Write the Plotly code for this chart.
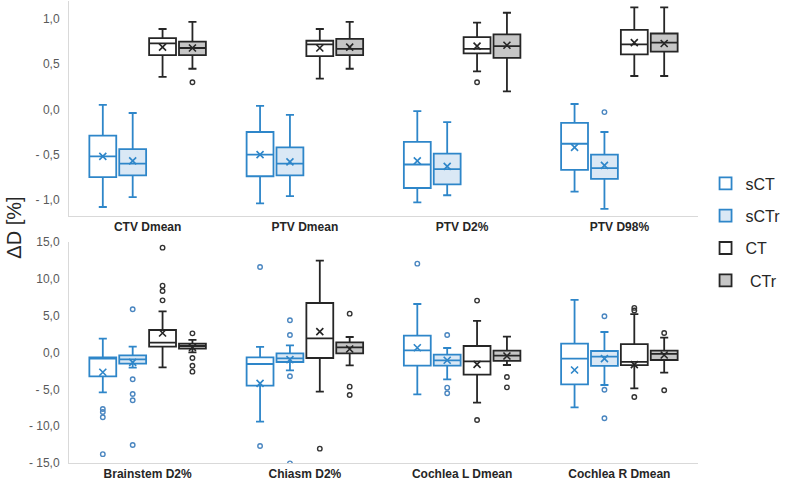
import plotly.graph_objects as go

# ---------------- data ----------------
top_categories = ["CTV Dmean", "PTV Dmean", "PTV D2%", "PTV D98%"]
bottom_categories = ["Brainstem D2%", "Chiasm D2%", "Cochlea L Dmean", "Cochlea R Dmean"]
series_names = ["sCT", "sCTr", "CT", "\u00a0CTr"]

top_ticks = [-1.0, -0.5, 0.0, 0.5, 1.0]
top_ticktext = ["- 1,0", "- 0,5", "0,0", "0,5", "1,0"]
bottom_ticks = [-15, -10, -5, 0, 5, 10, 15]
bottom_ticktext = ["- 15,0", "- 10,0", "- 5,0", "0,0", "5,0", "10,0", "15,0"]

# top panel
top_sct_low = [-1.08, -1.04, -1.03, -0.91]
top_sct_q1 = [-0.75, -0.74, -0.87, -0.67]
top_sct_med = [-0.52, -0.50, -0.61, -0.38]
top_sct_q3 = [-0.29, -0.25, -0.36, -0.15]
top_sct_high = [0.05, 0.04, -0.02, 0.06]
top_sct_mean = [-0.52, -0.50, -0.57, -0.42]
top_sct_out = [[], [], [], []]

top_sctr_low = [-0.97, -0.96, -0.95, -1.10]
top_sctr_q1 = [-0.73, -0.73, -0.83, -0.77]
top_sctr_med = [-0.60, -0.60, -0.66, -0.65]
top_sctr_q3 = [-0.44, -0.42, -0.49, -0.50]
top_sctr_high = [-0.04, -0.06, -0.14, -0.25]
top_sctr_mean = [-0.57, -0.58, -0.63, -0.62]
top_sctr_out = [[], [], [], [-0.03]]

top_ct_low = [0.36, 0.34, 0.42, 0.37]
top_ct_q1 = [0.60, 0.59, 0.62, 0.61]
top_ct_med = [0.73, 0.72, 0.67, 0.72]
top_ct_q3 = [0.79, 0.76, 0.80, 0.88]
top_ct_high = [0.89, 0.89, 0.96, 1.13]
top_ct_mean = [0.69, 0.68, 0.70, 0.74]
top_ct_out = [[], [], [0.30], []]

top_ctr_low = [0.45, 0.45, 0.20, 0.37]
top_ctr_q1 = [0.60, 0.60, 0.57, 0.64]
top_ctr_med = [0.68, 0.67, 0.70, 0.74]
top_ctr_q3 = [0.75, 0.78, 0.83, 0.84]
top_ctr_high = [0.97, 0.97, 1.07, 1.13]
top_ctr_mean = [0.68, 0.69, 0.71, 0.73]
top_ctr_out = [[0.30], [], [], []]

# bottom panel
bot_sct_low = [-5.41, -9.39, -5.68, -7.44]
bot_sct_q1 = [-3.24, -4.50, -1.79, -4.32]
bot_sct_med = [-0.84, -1.56, 0.29, -0.84]
bot_sct_q3 = [-0.66, -0.66, 2.28, 1.20]
bot_sct_high = [1.87, 0.75, 6.58, 7.13]
bot_sct_mean = [-2.69, -4.19, 0.65, -2.38]
bot_sct_out = [[-7.67, -8.08, -8.8, -13.8], [11.6, -12.7], [12.06], []]

bot_sctr_low = [-2.06, -2.42, -3.64, -4.41]
bot_sctr_q1 = [-1.52, -1.29, -1.79, -1.83]
bot_sctr_med = [-0.93, -0.79, -1.06, -0.57]
bot_sctr_q3 = [-0.39, -0.12, -0.29, 0.20]
bot_sctr_high = [0.79, 0.97, 0.61, 2.78]
bot_sctr_mean = [-1.34, -0.97, -1.06, -0.84]
bot_sctr_out = [[5.86, -3.64, -5.63, -6.49, -12.56], [4.37, 2.38, -3.23, -15.05],
                [2.38, -4.77, -5.54], [4.91, -5.05, -8.93]]

bot_ct_low = [-2.01, -5.32, -6.81, -4.86]
bot_ct_q1 = [0.79, -0.75, -3.01, -1.72]
bot_ct_med = [1.33, 1.92, -1.20, -1.27]
bot_ct_q3 = [3.05, 6.72, 0.88, 1.13]
bot_ct_high = [5.59, 12.46, 4.28, 5.2]
bot_ct_mean = [2.65, 2.83, -1.61, -1.65]
bot_ct_out = [[14.23, 9.07, 8.35, 7.08], [-13.05], [7.04, -9.16], [6.05, 5.7, -6.04]]

bot_ctr_low = [0.02, -1.74, -1.70, -2.74]
bot_ctr_q1 = [0.52, -0.11, -1.15, -1.02]
bot_ctr_med = [0.88, 0.70, -0.43, -0.20]
bot_ctr_q3 = [1.20, 1.38, 0.25, 0.25]
bot_ctr_high = [1.70, 2.10, 2.15, 2.01]
bot_ctr_mean = [0.70, 0.48, -0.47, -0.34]
bot_ctr_out = [[2.6, -0.75, -1.79, -2.6], [5.27, -4.64, -5.77], [-3.33, -4.73], [2.65, -5.13]]

# ---------------- style ----------------
BLUE = "#2e86c9"
DARK = "#262626"
line_colors = [BLUE, BLUE, DARK, DARK]
fill_colors = ["#ffffff", "#dae8f5", "#ffffff", "#c6c6c6"]
out_colors = ["#4a86c0", "#4a86c0", "#333333", "#333333"]
groups = ["a", "b", "c", "d"]
FONT = "Liberation Sans, Arial, sans-serif"

top_stats = [
    (top_sct_low, top_sct_q1, top_sct_med, top_sct_q3, top_sct_high, top_sct_mean, top_sct_out),
    (top_sctr_low, top_sctr_q1, top_sctr_med, top_sctr_q3, top_sctr_high, top_sctr_mean, top_sctr_out),
    (top_ct_low, top_ct_q1, top_ct_med, top_ct_q3, top_ct_high, top_ct_mean, top_ct_out),
    (top_ctr_low, top_ctr_q1, top_ctr_med, top_ctr_q3, top_ctr_high, top_ctr_mean, top_ctr_out),
]
bot_stats = [
    (bot_sct_low, bot_sct_q1, bot_sct_med, bot_sct_q3, bot_sct_high, bot_sct_mean, bot_sct_out),
    (bot_sctr_low, bot_sctr_q1, bot_sctr_med, bot_sctr_q3, bot_sctr_high, bot_sctr_mean, bot_sctr_out),
    (bot_ct_low, bot_ct_q1, bot_ct_med, bot_ct_q3, bot_ct_high, bot_ct_mean, bot_ct_out),
    (bot_ctr_low, bot_ctr_q1, bot_ctr_med, bot_ctr_q3, bot_ctr_high, bot_ctr_mean, bot_ctr_out),
]

fig = go.Figure()


def add_panel(cats, stats, xa, ya, showlegend):
    for i, (low, q1, med, q3, high, mean, out) in enumerate(stats):
        fig.add_trace(go.Box(
            x=cats, q1=q1, median=med, q3=q3, lowerfence=low, upperfence=high,
            name=series_names[i], legendgroup=series_names[i], showlegend=showlegend,
            offsetgroup=groups[i], boxpoints=False,
            line=dict(color=line_colors[i], width=1.8), fillcolor=fill_colors[i],
            whiskerwidth=0.3, xaxis=xa, yaxis=ya,
        ))
    for i, (low, q1, med, q3, high, mean, out) in enumerate(stats):
        ox = [c for c, pts in zip(cats, out) for _ in pts]
        oy = [p for pts in out for p in pts]
        fig.add_trace(go.Scatter(
            x=ox, y=oy, mode="markers", showlegend=False, offsetgroup=groups[i],
            marker=dict(symbol="circle-open", size=4.5, color=out_colors[i], line=dict(width=1.4)),
            xaxis=xa, yaxis=ya, hoverinfo="y",
        ))
        fig.add_trace(go.Scatter(
            x=cats, y=mean, mode="markers", showlegend=False, offsetgroup=groups[i],
            marker=dict(symbol="x-thin", size=7, color=line_colors[i], line=dict(width=1.6, color=line_colors[i])),
            xaxis=xa, yaxis=ya, hoverinfo="y",
        ))


add_panel(top_categories, top_stats, "x", "y", True)
add_panel(bottom_categories, bot_stats, "x2", "y2", False)

axis_line = "#d9d9d9"
xcommon = dict(type="category", showline=True, linecolor=axis_line, linewidth=1, showgrid=False,
               ticks="", zeroline=False, automargin=False,
               tickfont=dict(family=FONT, size=12, color=DARK, weight="bold"))
ycommon = dict(showline=True, linecolor=axis_line, linewidth=1, showgrid=False, zeroline=False,
               ticks="", automargin=False, ticklabelstandoff=6,
               tickfont=dict(family=FONT, size=12, color="#595959"))

fig.update_layout(
    width=787, height=480,
    margin=dict(l=69, r=84, t=1, b=17),
    paper_bgcolor="white", plot_bgcolor="white",
    font=dict(family=FONT, color=DARK),
    boxmode="group", boxgap=0.24, boxgroupgap=0.1,
    scattermode="group", scattergap=0.24,
    xaxis=dict(domain=[0, 1], anchor="y", **xcommon),
    yaxis=dict(domain=[0.5346, 1], anchor="x", range=[-1.18, 1.2],
               tickvals=top_ticks, ticktext=top_ticktext, **ycommon),
    xaxis2=dict(domain=[0, 1], anchor="y2", **xcommon),
    yaxis2=dict(domain=[0, 0.4784], anchor="x2", range=[-15, 15],
                tickvals=bottom_ticks, ticktext=bottom_ticktext, **ycommon),
    legend=dict(x=1.012, xanchor="left", y=0.5, yanchor="middle",
                font=dict(family=FONT, size=16, color=DARK),
                tracegroupgap=8.5, bgcolor="rgba(0,0,0,0)"),
    showlegend=True,
    annotations=[dict(text="ΔD [%]", x=-0.087, y=0.51, xref="paper", yref="paper",
                      xanchor="center", yanchor="middle", textangle=-90, showarrow=False,
                      font=dict(family=FONT, size=20, color=DARK))],
)

fig.write_html("out.html")
